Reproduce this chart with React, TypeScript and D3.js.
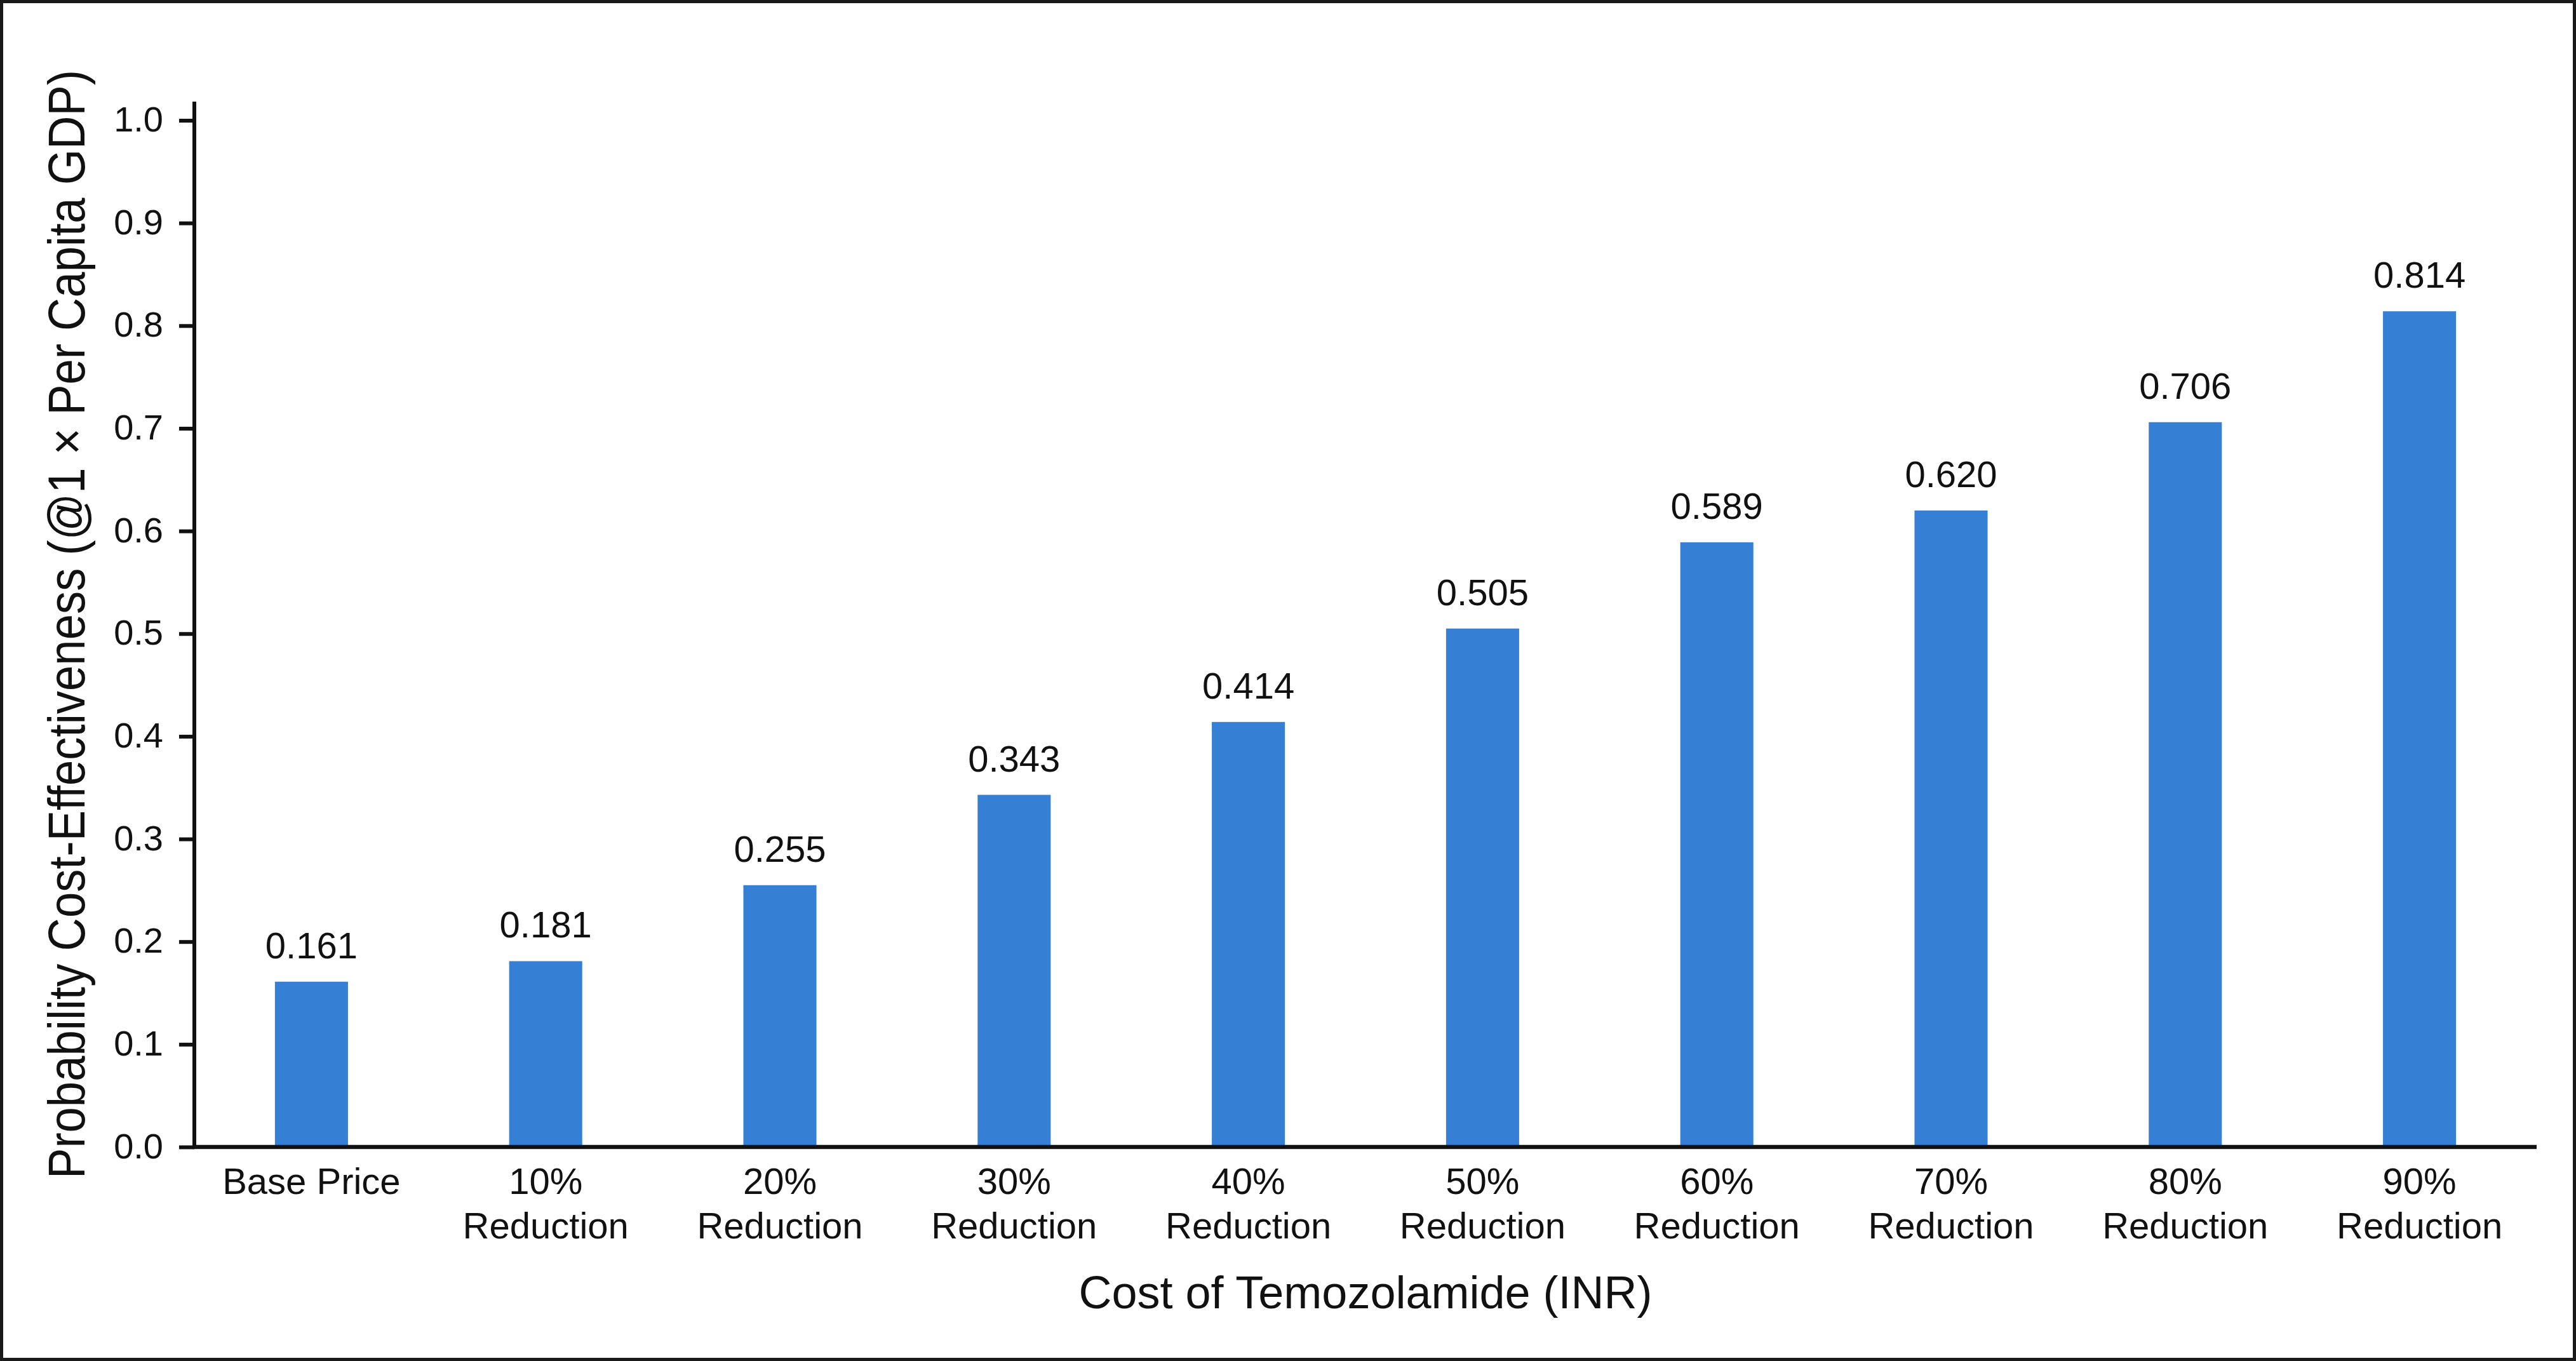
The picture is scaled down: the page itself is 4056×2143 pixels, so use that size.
import { useEffect, useRef } from 'react';
import * as d3 from 'd3';

// chart data
const categories = [
  'Base Price',
  '10% Reduction',
  '20% Reduction',
  '30% Reduction',
  '40% Reduction',
  '50% Reduction',
  '60% Reduction',
  '70% Reduction',
  '80% Reduction',
  '90% Reduction',
];
const probabilities = [0.161, 0.181, 0.255, 0.343, 0.414, 0.505, 0.589, 0.62, 0.706, 0.814];
const yTicks = [0, 0.1, 0.2, 0.3, 0.4, 0.5, 0.6, 0.7, 0.8, 0.9, 1.0];
const xTitle = 'Cost of Temozolamide (INR)';
const yTitle = 'Probability Cost-Effectiveness (@1 × Per Capita GDP)';

export default function App() {
  const svgRef = useRef<SVGSVGElement>(null);

  useEffect(() => {
    if (!svgRef.current) return;
    d3.select(svgRef.current).selectAll('*').remove();

    const width = 4056;
    const height = 2143;
    const font = '"Liberation Sans", Arial, Helvetica, sans-serif';
    const ink = '#111';

    const svg = d3.select(svgRef.current)
      .attr('width', width)
      .attr('height', height)
      .attr('viewBox', [0, 0, width, height])
      .style('font-family', font);

    svg.append('rect')
      .attr('width', width)
      .attr('height', height)
      .attr('fill', '#fff');

    // outer frame
    svg.append('rect')
      .attr('x', 2.5)
      .attr('y', 2.5)
      .attr('width', width - 5)
      .attr('height', height - 5)
      .attr('fill', 'none')
      .attr('stroke', '#1a1a1a')
      .attr('stroke-width', 5);

    const x = d3.scaleBand<string>()
      .domain(categories)
      .range([306, 3994])
      .paddingInner(0.688)
      .paddingOuter(0.344);

    const y = d3.scaleLinear()
      .domain([0, 1])
      .range([1806, 189.5]);

    // bars
    svg.append('g')
      .selectAll('rect')
      .data(probabilities)
      .join('rect')
      .attr('x', (_, i) => x(categories[i])!)
      .attr('width', x.bandwidth())
      .attr('y', d => y(d))
      .attr('height', d => y(0) - y(d))
      .attr('fill', '#3580d5');

    // value labels
    svg.append('g')
      .selectAll('text')
      .data(probabilities)
      .join('text')
      .attr('x', (_, i) => x(categories[i])! + x.bandwidth() / 2)
      .attr('y', d => y(d) - 37)
      .attr('text-anchor', 'middle')
      .attr('font-size', 58)
      .attr('fill', ink)
      .text(d => d.toFixed(3));

    // y axis
    const yAxis = svg.append('g')
      .attr('transform', 'translate(306,0)')
      .call(
        d3.axisLeft(y)
          .tickValues(yTicks)
          .tickFormat(d3.format('.1f'))
          .tickSize(24)
          .tickSizeOuter(0)
          .tickPadding(25)
      );
    yAxis.select('.domain').remove();
    yAxis.selectAll('line').attr('stroke', ink).attr('stroke-width', 6);
    yAxis.selectAll('text')
      .attr('font-size', 56)
      .attr('font-family', font)
      .attr('fill', ink)
      .attr('dy', 17);

    svg.append('line')
      .attr('x1', 306)
      .attr('x2', 306)
      .attr('y1', 160)
      .attr('y2', y(0) + 3)
      .attr('stroke', ink)
      .attr('stroke-width', 6);

    // x axis baseline
    svg.append('line')
      .attr('x1', 303)
      .attr('x2', 3994)
      .attr('y1', y(0))
      .attr('y2', y(0))
      .attr('stroke', ink)
      .attr('stroke-width', 6.5);

    // category labels, split into two lines
    const catG = svg.append('g')
      .selectAll('text')
      .data(categories)
      .join('text')
      .attr('x', d => x(d)! + x.bandwidth() / 2)
      .attr('y', 1880)
      .attr('text-anchor', 'middle')
      .attr('font-size', 58)
      .attr('fill', ink);
    catG.each(function (d) {
      const parts = d === 'Base Price' ? [d] : d.split(' ');
      const t = d3.select(this);
      parts.forEach((p, i) => {
        t.append('tspan')
          .attr('x', x(d)! + x.bandwidth() / 2)
          .attr('dy', i === 0 ? 0 : 70)
          .text(p);
      });
    });

    // axis titles
    svg.append('text')
      .attr('x', (306 + 3994) / 2)
      .attr('y', 2060)
      .attr('text-anchor', 'middle')
      .attr('font-size', 72)
      .attr('fill', ink)
      .text(xTitle);

    // y title: taller glyphs, squeezed along the reading direction
    svg.append('text')
      .attr('transform', 'translate(133,983) rotate(-90) scale(0.884,1)')
      .attr('text-anchor', 'middle')
      .attr('font-size', 82)
      .attr('fill', ink)
      .text(yTitle);
  }, []);

  return (
    <div style={{ position: 'absolute', left: 0, top: 0 }}>
      <svg ref={svgRef} style={{ display: 'block' }}></svg>
    </div>
  );
}
